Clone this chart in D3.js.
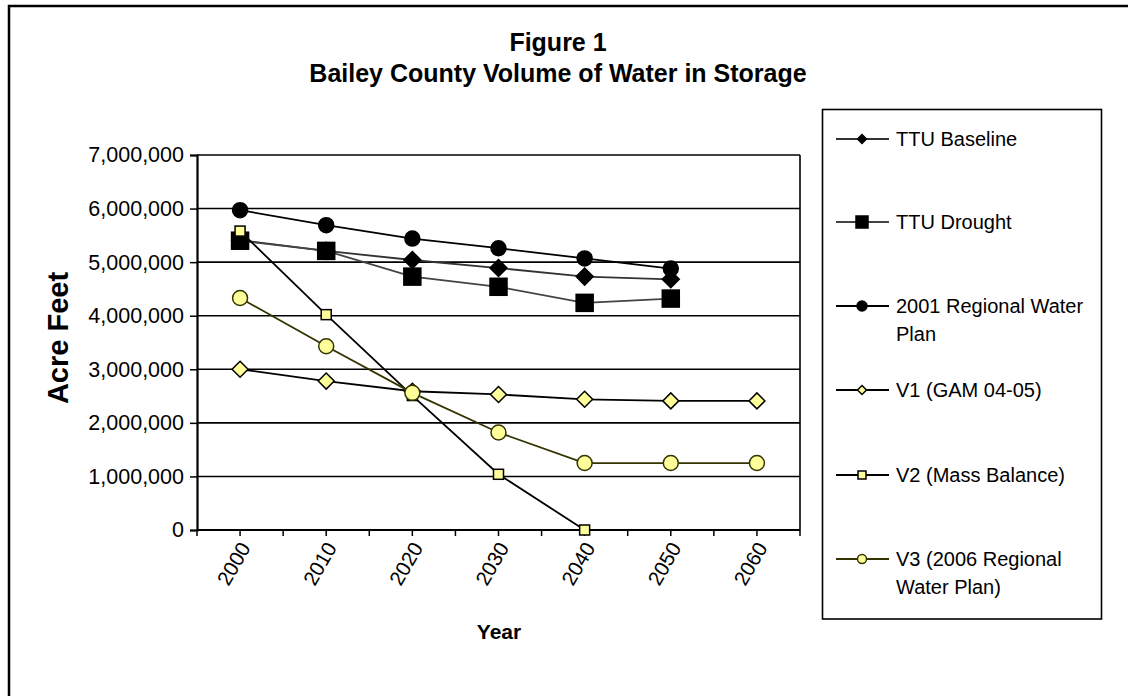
<!DOCTYPE html>
<html>
<head>
<meta charset="utf-8">
<script src="https://cdn.jsdelivr.net/npm/d3@7"></script>
<style>
  html, body { margin: 0; padding: 0; background: #fff; }
  svg { display: block; font-family: "Liberation Sans", Arial, sans-serif; }
</style>
</head>
<body>
<svg id="chart" width="1128" height="696"></svg>
<script>
// ---- data ----
const years = ["2000", "2010", "2020", "2030", "2040", "2050", "2060"];
const yTicks = [0, 1000000, 2000000, 3000000, 4000000, 5000000, 6000000, 7000000];
const seriesNames = ["TTU Baseline", "TTU Drought", "2001 Regional Water Plan",
                     "V1 (GAM 04-05)", "V2 (Mass Balance)", "V3 (2006 Regional Water Plan)"];
const ttuBaseline = [5410000, 5210000, 5040000, 4890000, 4730000, 4680000, null];
const ttuDrought  = [5400000, 5210000, 4730000, 4540000, 4240000, 4320000, null];
const rwp2001     = [5970000, 5690000, 5440000, 5260000, 5070000, 4880000, null];
const v1Gam       = [3000000, 2780000, 2590000, 2530000, 2440000, 2410000, 2410000];
const v2Mass      = [5580000, 4020000, 2510000, 1040000, 0, null, null];
const v3Rwp2006   = [4330000, 3430000, 2560000, 1820000, 1250000, 1250000, 1250000];

// ---- styles ----
const styles = [
  { values: ttuBaseline, line: "#333333", shape: "diamond", fill: "#000", stroke: "#000", size: 17, lsize: 9,
    legendLines: ["TTU Baseline"] },
  { values: ttuDrought, line: "#444444", shape: "square", fill: "#000", stroke: "#000", size: 17, lsize: 12,
    legendLines: ["TTU Drought"] },
  { values: rwp2001, line: "#000000", shape: "circle", fill: "#000", stroke: "#000", size: 15, lsize: 10,
    legendLines: ["2001 Regional Water", "Plan"] },
  { values: v1Gam, line: "#000000", shape: "diamond", fill: "#ffff99", stroke: "#000", size: 16, lsize: 9,
    legendLines: ["V1 (GAM 04-05)"] },
  { values: v2Mass, line: "#000000", shape: "square", fill: "#ffff99", stroke: "#000", size: 10, lsize: 8,
    legendLines: ["V2 (Mass Balance)"] },
  { values: v3Rwp2006, line: "#333300", shape: "circle", fill: "#ffff99", stroke: "#333300", size: 15, lsize: 9,
    legendLines: ["V3 (2006 Regional", "Water Plan)"] }
];

const svg = d3.select("#chart");

// outer frame
svg.append("rect").attr("x", 9).attr("y", 6).attr("width", 1130).attr("height", 700)
  .attr("fill", "#fff").attr("stroke", "#000").attr("stroke-width", 2.5);

const plot = { left: 197, right: 800, top: 155, bottom: 530 };

const x = d3.scaleBand().domain(years).range([plot.left, plot.right]).padding(0);
const xc = d => x(d) + x.bandwidth() / 2;
const y = d3.scaleLinear().domain([0, 7000000]).range([plot.bottom, plot.top]);

// gridlines
svg.append("g").selectAll("line").data(yTicks).join("line")
  .attr("x1", plot.left).attr("x2", plot.right)
  .attr("y1", d => y(d)).attr("y2", d => y(d))
  .attr("stroke", "#000").attr("stroke-width", 1.6);

// plot border (right side)
svg.append("line").attr("x1", plot.right).attr("x2", plot.right)
  .attr("y1", plot.top).attr("y2", plot.bottom).attr("stroke", "#000").attr("stroke-width", 1.6);

// y axis
const yAxis = d3.axisLeft(y).tickValues(yTicks).tickSize(7).tickPadding(6)
  .tickFormat(d3.format(",d"));
const gy = svg.append("g").attr("transform", `translate(${plot.left},0)`).call(yAxis);
gy.select(".domain").attr("stroke", "#000").attr("stroke-width", 2.2);
gy.selectAll(".tick line").attr("stroke", "#000").attr("stroke-width", 1.5);
gy.selectAll(".tick text").attr("font-size", 21.5).attr("fill", "#000")
  .attr("font-family", "Liberation Sans, Arial, sans-serif");

// x axis: ticks at category boundaries and centres
const halfTicks = [];
years.forEach(yr => { halfTicks.push(x(yr)); halfTicks.push(xc(yr)); });
halfTicks.push(plot.right);
const gx = svg.append("g");
gx.append("line").attr("x1", plot.left).attr("x2", plot.right)
  .attr("y1", plot.bottom).attr("y2", plot.bottom).attr("stroke", "#000").attr("stroke-width", 2.2);
gx.selectAll("line.t").data(halfTicks).join("line").attr("class", "t")
  .attr("x1", d => d).attr("x2", d => d).attr("y1", plot.bottom).attr("y2", plot.bottom + 6)
  .attr("stroke", "#000").attr("stroke-width", 1.5);
gx.selectAll("text").data(years).join("text")
  .attr("transform", d => `translate(${xc(d) + 5},${plot.bottom + 14}) rotate(-60)`)
  .attr("text-anchor", "end").attr("dy", "0.35em")
  .attr("font-size", 20.5).attr("fill", "#000")
  .text(d => d);

// axis titles
svg.append("text").attr("x", 499).attr("y", 639).attr("text-anchor", "middle")
  .attr("font-size", 21).attr("font-weight", "bold").text("Year");
svg.append("text").attr("transform", "translate(68,338) rotate(-90)").attr("text-anchor", "middle")
  .attr("font-size", 29).attr("font-weight", "bold").text("Acre Feet");

// title
svg.append("text").attr("x", 558).attr("y", 51).attr("text-anchor", "middle")
  .attr("font-size", 25).attr("font-weight", "bold").text("Figure 1");
svg.append("text").attr("x", 558).attr("y", 82).attr("text-anchor", "middle")
  .attr("font-size", 25).attr("font-weight", "bold").text("Bailey County Volume of Water in Storage");

// marker helper
function marker(g, s, cx, cy, size) {
  if (s.shape === "diamond") {
    const r = size / 2;
    g.append("path").attr("d", `M${cx},${cy - r}L${cx + r},${cy}L${cx},${cy + r}L${cx - r},${cy}Z`)
      .attr("fill", s.fill).attr("stroke", s.stroke).attr("stroke-width", 1.5);
  } else if (s.shape === "square") {
    g.append("rect").attr("x", cx - size / 2).attr("y", cy - size / 2)
      .attr("width", size).attr("height", size)
      .attr("fill", s.fill).attr("stroke", s.stroke).attr("stroke-width", 1.5);
  } else {
    g.append("circle").attr("cx", cx).attr("cy", cy).attr("r", size / 2)
      .attr("fill", s.fill).attr("stroke", s.stroke).attr("stroke-width", 1.5);
  }
}

// series
const line = d3.line().defined(d => d.v !== null).x(d => xc(d.year)).y(d => y(d.v));
styles.forEach((s, i) => {
  const pts = years.map((yr, j) => ({ year: yr, v: s.values[j] }));
  const g = svg.append("g");
  g.append("path").datum(pts).attr("d", line).attr("fill", "none")
    .attr("stroke", s.line).attr("stroke-width", 1.8);
  pts.filter(p => p.v !== null).forEach(p => marker(g, s, xc(p.year), y(p.v), s.size));
});

// legend
const lg = svg.append("g");
lg.append("rect").attr("x", 822.5).attr("y", 109.5).attr("width", 279).attr("height", 509.5)
  .attr("fill", "#fff").attr("stroke", "#000").attr("stroke-width", 1.6);
const legendY = [139, 222, 306, 390, 475, 559];
styles.forEach((s, i) => {
  const cy = legendY[i];
  lg.append("line").attr("x1", 836).attr("x2", 889).attr("y1", cy).attr("y2", cy)
    .attr("stroke", s.line).attr("stroke-width", 1.8);
  marker(lg, s, 862, cy, s.lsize);
  s.legendLines.forEach((t, k) => {
    lg.append("text").attr("x", 896).attr("y", cy + 7 + k * 28)
      .attr("font-size", 20).attr("fill", "#000").text(t);
  });
});
</script>
</body>
</html>
